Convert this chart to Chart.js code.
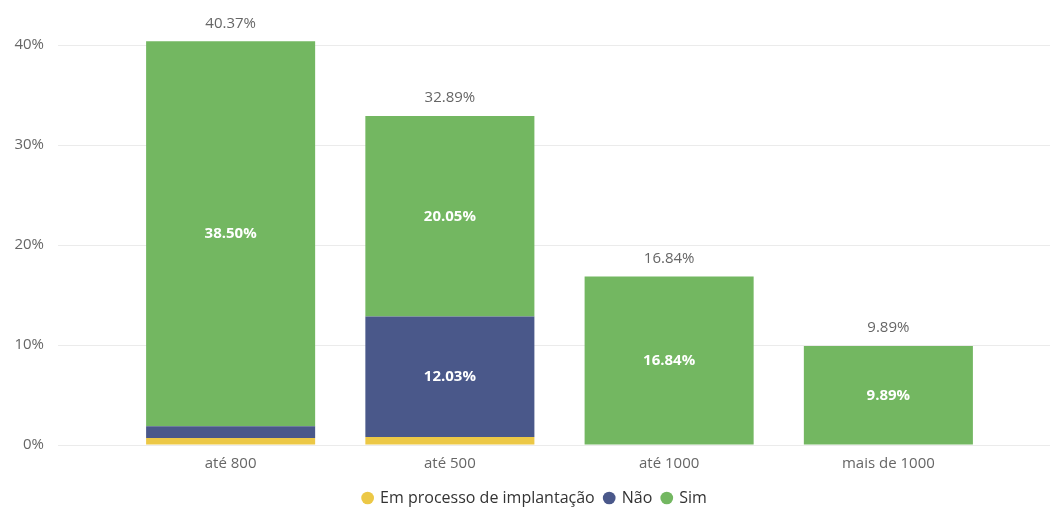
<!DOCTYPE html>
<html>
<head>
<meta charset="utf-8">
<script src="https://cdn.jsdelivr.net/npm/chart.js@4"></script>
<style>
  body { margin: 0; background: #fff; }
  #wrap { width: 1056px; height: 512px; }
</style>
</head>
<body>
<div id="wrap"><canvas id="faixas"></canvas></div>
<script>
// valores (%)
const categorias = ['até 800', 'até 500', 'até 1000', 'mais de 1000'];
const emProcesso = [0.70, 0.81, null, null];
const nao = [1.17, 12.03, null, null];
const sim = [38.50, 20.05, 16.84, 9.89];
const totais = [40.37, 32.89, 16.84, 9.89];
const ticksY = [0, 10, 20, 30, 40];

const fonte = '"Open Sans", "Noto Sans", sans-serif';

// linhas de grade mais largas que a area das barras
const gradePlugin = {
  id: 'grade',
  afterLayout(chart) {
    // legenda um pouco deslocada para a direita, como no original
    chart.legend.left = 72;
    chart.legend.top += 4;
  },
  beforeDatasetsDraw(chart) {
    const ctx = chart.ctx;
    const y = chart.scales.y;
    ctx.save();
    ctx.strokeStyle = '#ebebeb';
    ctx.lineWidth = 1;
    ticksY.forEach(v => {
      const py = Math.round(y.getPixelForValue(v)) + 0.5;
      ctx.beginPath();
      ctx.moveTo(58, py);
      ctx.lineTo(1050, py);
      ctx.stroke();
    });
    ctx.restore();
  }
};

// rotulos dentro das barras e totais acima
const rotulosPlugin = {
  id: 'rotulos',
  afterDatasetsDraw(chart) {
    const ctx = chart.ctx;
    ctx.save();
    ctx.textAlign = 'center';
    ctx.textBaseline = 'middle';
    chart.data.datasets.forEach((ds, i) => {
      const meta = chart.getDatasetMeta(i);
      meta.data.forEach((bar, j) => {
        const v = ds.data[j];
        if (v == null || v < 5) return;
        ctx.fillStyle = '#ffffff';
        ctx.font = 'bold 15px ' + fonte;
        ctx.fillText(v.toFixed(2) + '%', bar.x, (bar.y + bar.base) / 2);
      });
    });
    const topo = chart.getDatasetMeta(chart.data.datasets.length - 1);
    topo.data.forEach((bar, j) => {
      ctx.fillStyle = '#666666';
      ctx.font = '15px ' + fonte;
      ctx.fillText(totais[j].toFixed(2) + '%', bar.x, bar.y - 18);
    });
    ctx.restore();
  }
};

const ctx = document.getElementById('faixas');
new Chart(ctx, {
  type: 'bar',
  data: {
    labels: categorias,
    datasets: [
      { label: 'Em processo de implantação', data: emProcesso, backgroundColor: '#ECC846' },
      { label: 'Não', data: nao, backgroundColor: '#4A588A' },
      { label: 'Sim', data: sim, backgroundColor: '#73B761' }
    ]
  },
  options: {
    responsive: true,
    maintainAspectRatio: false,
    animation: false,
    layout: { padding: { top: 21, right: 58, left: 0, bottom: 0 } },
    datasets: { bar: { categoryPercentage: 1, barPercentage: 0.771 } },
    scales: {
      x: {
        stacked: true,
        grid: { display: false, drawTicks: false },
        border: { display: false },
        ticks: { color: '#666666', font: { family: fonte, size: 15 }, padding: 10 },
        afterFit(scale) { scale.height = 31; }
      },
      y: {
        stacked: true,
        min: 0,
        max: 42.4,
        grid: { color: 'rgba(0,0,0,0)', drawTicks: true, tickLength: 77 },
        border: { display: false },
        afterBuildTicks(scale) {
          scale.ticks = ticksY.map(v => ({ value: v }));
        },
        ticks: {
          color: '#666666',
          font: { family: fonte, size: 15 },
          padding: 0,
          callback: v => v + '%'
        },
        afterFit(scale) { scale.width = 121; }
      }
    },
    plugins: {
      tooltip: { enabled: false },
      legend: {
        position: 'bottom',
        labels: {
          usePointStyle: true,
          pointStyle: 'circle',
          boxWidth: 9,
          boxHeight: 9,
          padding: 10,
          color: '#333333',
          font: { family: fonte, size: 16 }
        }
      }
    }
  },
  plugins: [gradePlugin, rotulosPlugin]
});
</script>
</body>
</html>
